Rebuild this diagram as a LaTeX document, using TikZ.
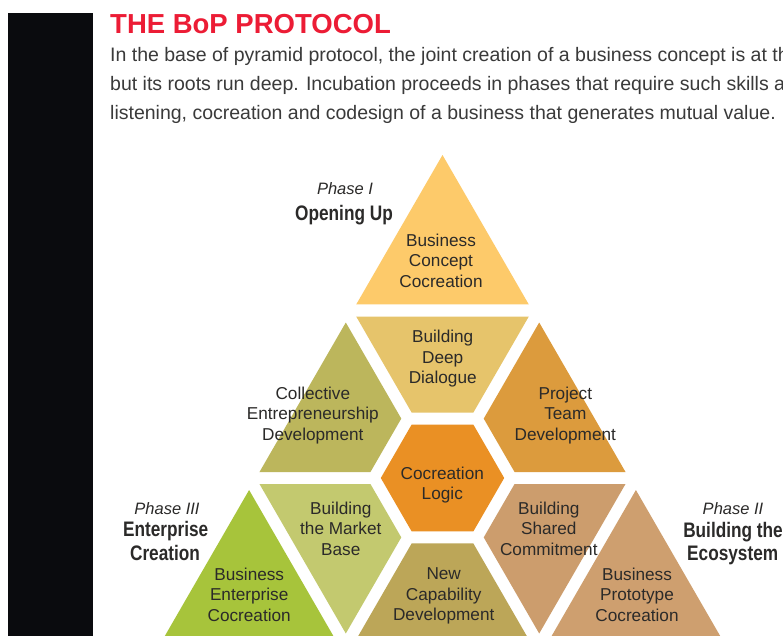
\documentclass[tikz,border=0pt]{standalone}
\usepackage{fontspec}
\setmainfont{Liberation Sans}
\newfontfamily\condbold[FakeStretch=0.82]{Liberation Sans Bold}
\usetikzlibrary{calc}
\definecolor{barblack}{HTML}{0A0B0E}
\definecolor{titlered}{HTML}{EC1C35}
\definecolor{bodygray}{HTML}{3A3A3A}
\definecolor{labtext}{HTML}{2B2A29}
\definecolor{cTop}{HTML}{FDCA6A}
\definecolor{cDeep}{HTML}{E6C46B}
\definecolor{cColl}{HTML}{BCB65C}
\definecolor{cProj}{HTML}{DC9B3D}
\definecolor{cHex}{HTML}{EA9024}
\definecolor{cMark}{HTML}{C3C96F}
\definecolor{cEnt}{HTML}{A7C43B}
\definecolor{cNew}{HTML}{BCA658}
\definecolor{cShar}{HTML}{CC9D6D}
\definecolor{cProt}{HTML}{CE9F6F}
\tikzset{
  lab/.style={anchor=base, inner sep=0pt, text=labtext, font=\fontsize{17.2}{20}\selectfont},
  phaseit/.style={anchor=base, inner sep=0pt, text=labtext, font=\fontsize{16.5}{20}\selectfont\itshape},
  phasebf/.style={anchor=base, inner sep=0pt, text=labtext, font=\condbold\fontsize{21}{24}\selectfont},
  bodyline/.style={anchor=base west, inner sep=0pt, text=bodygray, font=\fontsize{19.5}{24}\selectfont},
}
\newcommand\sk{0.8925}
\newcommand\cutd{61.66pt}
% shrunk triangle corners: prefix, lattice a, b, c
\newcommand\shrunk[4]{%
  \coordinate (#1g) at ($0.333333*(#2)+0.333333*(#3)+0.333333*(#4)$);
  \coordinate (#1a) at ($(#1g)!\sk!(#2)$);
  \coordinate (#1b) at ($(#1g)!\sk!(#3)$);
  \coordinate (#1c) at ($(#1g)!\sk!(#4)$);}
\newcommand\fulltri[2]{\fill[#2] (#1a) -- (#1b) -- (#1c) -- cycle;}
\newcommand\cuttri[2]{\fill[#2] ($(#1a)!\cutd!(#1b)$) -- (#1b) -- (#1c) -- ($(#1a)!\cutd!(#1c)$) -- cycle;}
\newcommand\lab[6]{%
  \node[lab] (#1-1) at (#2,#3) {#4};
  \node[lab] (#1-2) at (#2,#3+20.5) {#5};
  \node[lab] (#1-3) at (#2,#3+41) {#6};}
\begin{document}
\begin{tikzpicture}[x=1pt,y=-1pt]
\useasboundingbox (0,0) rectangle (783,636);
\clip (0,0) rectangle (783,636);
\fill[white] (0,0) rectangle (783,636);
% black bar
\fill[barblack] (8.3,13.3) rectangle (93.3,640);
% title and intro text
\node[anchor=base west, inner sep=0pt, text=titlered, font=\fontsize{27.5}{30}\selectfont\bfseries] (title) at (110,33.3) {THE BoP PROTOCOL};
\node[bodyline] (body1) at (110,62) {In the base of pyramid protocol, the joint creation of a business concept is at th};
\node[bodyline] (body2) at (110,91) {but its roots run deep. Incubation proceeds in phases that require such skills as};
\node[bodyline] (body3) at (110,120) {listening, cocreation and codesign of a business that generates mutual value.};
% lattice
\coordinate (P00) at (442.5,143);
\coordinate (P10) at (345.8,310.5);
\coordinate (P11) at (539.2,310.5);
\coordinate (P20) at (249.1,478);
\coordinate (P21) at (442.5,478);
\coordinate (P22) at (635.9,478);
\coordinate (P30) at (152.4,645.5);
\coordinate (P31) at (345.8,645.5);
\coordinate (P32) at (539.2,645.5);
\coordinate (P33) at (732.6,645.5);
% shapes
\shrunk{T}{P00}{P10}{P11}
\shrunk{D}{P21}{P10}{P11}
\shrunk{C}{P21}{P10}{P20}
\shrunk{J}{P21}{P11}{P22}
\shrunk{E}{P20}{P30}{P31}
\shrunk{M}{P21}{P20}{P31}
\shrunk{N}{P21}{P31}{P32}
\shrunk{S}{P21}{P22}{P32}
\shrunk{R}{P22}{P32}{P33}
\fulltri{T}{cTop}
\cuttri{D}{cDeep}
\cuttri{C}{cColl}
\cuttri{J}{cProj}
\fulltri{E}{cEnt}
\cuttri{M}{cMark}
\cuttri{N}{cNew}
\cuttri{S}{cShar}
\fulltri{R}{cProt}
\fill[cHex] ($(P21)+(61.7,0)$) -- ($(P21)+(30.85,53.43)$) -- ($(P21)+(-30.85,53.43)$) -- ($(P21)+(-61.7,0)$) -- ($(P21)+(-30.85,-53.43)$) -- ($(P21)+(30.85,-53.43)$) -- cycle;
% labels
\lab{bcc}{441}{246}{Business}{Concept}{Cocreation}
\lab{bdd}{442.7}{342.7}{Building}{Deep}{Dialogue}
\lab{ced}{312.8}{399}{Collective}{Entrepreneurship}{Development}
\lab{ptd}{565.3}{399}{Project}{Team}{Development}
\node[lab] (cl-1) at (442.3,479) {Cocreation};
\node[lab] (cl-2) at (442.3,499.5) {Logic};
\lab{bmb}{340.8}{514.3}{Building}{the Market}{Base}
\lab{bsc}{548.8}{514.3}{Building}{Shared}{Commitment}
\lab{bec}{249.2}{580}{Business}{Enterprise}{Cocreation}
\lab{ncd}{443.7}{579.5}{New}{Capability}{Development}
\lab{bpc}{637}{580}{Business}{Prototype}{Cocreation}
% phase labels
\node[phaseit] (ph1) at (345,195) {Phase I};
\node[phasebf] (ph1t) at (344,220) {Opening Up};
\node[phaseit] (ph3) at (167,514) {Phase III};
\node[phasebf] (ph3a) at (165.7,536.7) {Enterprise};
\node[phasebf] (ph3b) at (165,560.7) {Creation};
\node[phaseit] (ph2) at (733,514) {Phase II};
\node[phasebf] (ph2a) at (733,537) {Building the};
\node[phasebf] (ph2b) at (732.7,560.7) {Ecosystem};
\end{tikzpicture}
\end{document}
